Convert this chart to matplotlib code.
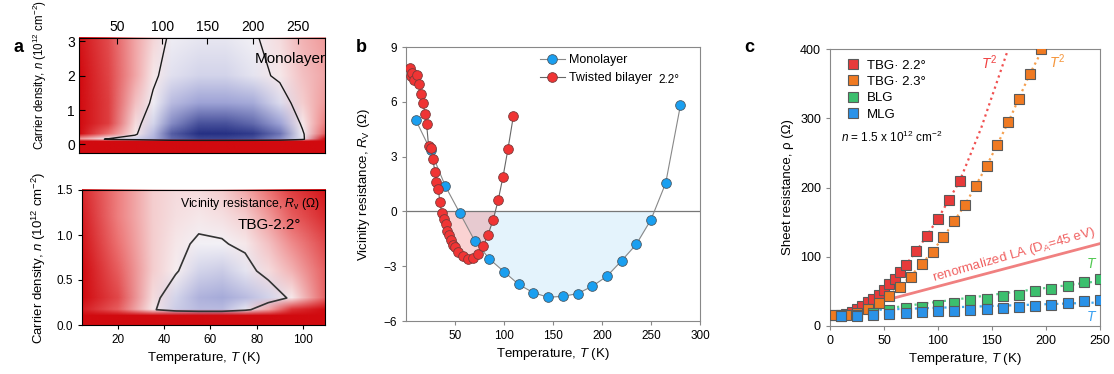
import numpy as np
import matplotlib
matplotlib.use('Agg')
import matplotlib.pyplot as plt
from matplotlib.colors import LinearSegmentedColormap
from matplotlib.image import NonUniformImage

plt.rcParams['font.family'] = ['Liberation Sans', 'DejaVu Sans']
plt.rcParams['mathtext.fontset'] = 'custom'
plt.rcParams['mathtext.rm'] = 'Liberation Sans'
plt.rcParams['mathtext.it'] = 'Liberation Sans:italic'
plt.rcParams['mathtext.bf'] = 'Liberation Sans:bold'

# ---- panel a: vicinity resistance maps (normalised), rows = n, cols = T
T_mono = [8, 40, 70, 90, 110, 140, 170, 200, 230, 255, 280]
n_mono = [-0.25, 0.08, 0.15, 0.3, 0.6, 1.2, 2.0, 3.1]
Rv_mono = [
    [1.0, 1.0, 1.0, 1.0, 1.0, 1.0, 1.0, 1.0, 1.0, 1.0, 1.0],
    [1.0, 1.0, 1.0, 1.0, 1.0, 1.0, 1.0, 1.0, 1.0, 1.0, 1.0],
    [0.35, -0.05, -0.2, -0.4, -0.75, -0.9, -0.9, -0.85, -0.6, -0.1, 1.0],
    [1.0, 0.5, 0.05, -0.35, -0.8, -1.0, -1.0, -0.95, -0.7, -0.05, 0.6],
    [1.0, 0.75, 0.1, -0.2, -0.6, -0.85, -0.85, -0.75, -0.5, 0.05, 0.45],
    [1.0, 0.75, 0.2, -0.05, -0.35, -0.5, -0.5, -0.45, -0.15, 0.15, 0.35],
    [1.0, 0.72, 0.3, 0.05, -0.12, -0.2, -0.2, -0.1, 0.05, 0.2, 0.3],
    [0.95, 0.68, 0.3, 0.12, -0.04, -0.08, -0.08, -0.03, 0.1, 0.25, 0.35],
]

T_tbg = [4.6, 20, 35, 45, 55, 65, 75, 85, 95, 110]
n_tbg = [0, 0.1, 0.17, 0.3, 0.6, 0.9, 1.2, 1.5]
Rv_tbg = [
    [1.0, 1.0, 1.0, 1.0, 1.0, 1.0, 1.0, 1.0, 1.0, 1.0],
    [1.0, 1.0, 1.0, 1.0, 1.0, 1.0, 1.0, 1.0, 1.0, 1.0],
    [0.9, 0.6, 0.05, -0.25, -0.35, -0.35, -0.1, 0.3, 0.8, 1.0],
    [1.0, 0.7, 0.1, -0.2, -0.4, -0.45, -0.35, -0.2, 0.05, 0.6],
    [1.0, 0.6, 0.15, 0.03, -0.2, -0.25, -0.1, 0.1, 0.25, 0.6],
    [0.95, 0.5, 0.15, 0.05, -0.03, -0.02, 0.05, 0.2, 0.4, 0.7],
    [0.9, 0.45, 0.15, 0.08, 0.05, 0.08, 0.15, 0.35, 0.6, 0.85],
    [0.85, 0.45, 0.15, 0.1, 0.1, 0.15, 0.3, 0.5, 0.75, 0.95],
]

# ---- panel b: Rv(T)
T_ml = [10, 25, 40, 55, 70, 85, 100, 115, 130, 145, 160, 175, 190, 205, 220, 235, 250, 265, 280]
Rv_ml = [5.0, 3.35, 1.4, -0.1, -1.6, -2.6, -3.3, -4.0, -4.45, -4.7, -4.65, -4.5, -4.1, -3.55, -2.7, -1.8, -0.45, 1.55, 5.8]
T_tb = [4, 5, 6.5, 8.5, 11.5, 13, 15.5, 17, 19.5, 21, 23, 25, 27.5, 29.5, 31, 33, 34.5, 36.5, 38.5,
        41, 42, 44, 46, 48, 50.5, 53.5, 58.5, 63, 68.5, 73.5, 79, 83.5, 89, 94, 99, 104, 109.5]
Rv_tb = [7.85, 7.4, 7.6, 7.2, 7.45, 7.0, 6.45, 5.95, 5.35, 4.8, 3.6, 3.45, 2.85, 2.15, 1.6, 1.25, 0.5, -0.1, -0.4,
         -0.7, -1.05, -1.3, -1.55, -1.85, -1.95, -2.2, -2.45, -2.6, -2.55, -2.35, -1.9, -1.3, -0.45, 0.6, 1.9, 3.4, 5.2]

# ---- panel c: sheet resistance
T_22 = [5, 10, 15, 20, 25, 30, 35, 40, 45, 50, 55, 60, 65, 70, 80, 90, 100, 110, 120]
rho_22 = [16, 16, 17, 20, 24, 28.5, 34, 38.6, 45, 52.6, 60, 68, 77.6, 88, 108, 130, 155, 182, 209]
T_23 = [5, 15, 25, 35, 45, 55, 65, 75, 85, 95, 105, 115, 125, 135, 145, 155, 165, 175, 185, 195]
rho_23 = [16, 16, 18.8, 24.6, 33.8, 43.9, 57, 70.8, 89.2, 107.4, 128, 151.7, 175.4, 202.3,
          230.8, 262, 294, 327.6, 363.7, 399.4]
T_mono_blg = [10, 25, 40, 55, 70, 85, 100, 115, 130, 145, 160, 175, 190, 205, 220, 235, 250]
rho_blg = [15, 16, 18.8, 22.7, 25.6, 28, 30.4, 33.8, 36.9, 39.6, 42.9, 45.4, 50.1, 53.5, 57.4, 63.6, 68.5]
rho_mlg = [14, 15, 16.5, 17.9, 18.8, 19.8, 21.2, 22.2, 23.4, 24.6, 26, 27.5, 28.4, 30.9, 32.8, 35.7, 37.1]

# fitted guides
T_fit22 = [40, 60, 80, 100, 120, 140, 165]
rho_fit22 = [36, 68, 108, 155, 209, 286, 400]
T_fit23 = [45, 65, 85, 105, 125, 145, 165, 185, 197]
rho_fit23 = [33, 57, 89, 128, 175, 231, 294, 364, 400]
T_lin = [35, 250]
rho_lin_blg = [22, 65]
rho_lin_mlg = [23, 34]
T_LA = [0, 250]
rho_LA = [16, 119]

W, H = 1114, 374
fig = plt.figure(figsize=(W / 100, H / 100), dpi=100)

def box(x0, y0, x1, y1):
    return [x0 / W, 1 - y1 / H, (x1 - x0) / W, (y1 - y0) / H]

cmap = LinearSegmentedColormap.from_list(
    'rwb', [(0.15, 0.19, 0.52), (0.62, 0.64, 0.84), (0.97, 0.96, 0.97), (0.93, 0.45, 0.45), (0.82, 0.04, 0.06)])

def rv_map(ax, T, n, R, lc, lw):
    im = NonUniformImage(ax, interpolation='bilinear', cmap=cmap,
                         extent=(T[0], T[-1], n[0], n[-1]))
    im.set_data(np.array(T, float), np.array(n, float), np.array(R))
    im.set_clim(-1, 1)
    ax.add_image(im)
    ax.contour(T, n, np.array(R), levels=[0], colors=lc, linewidths=lw)
    ax.set_xlim(T[0], T[-1])
    ax.set_ylim(n[0], n[-1])

# top map
ax1 = fig.add_axes(box(79, 38, 325, 153))
rv_map(ax1, T_mono, n_mono, Rv_mono, '#1a1a1a', 1.0)
ax1.set_ylim(-0.25, 3.1)
ax1.xaxis.tick_top()
ax1.set_xticks([50, 100, 150, 200, 250])
ax1.set_yticks([0, 1, 2, 3])
ax1.tick_params(direction='in', labelsize=10, length=4, pad=3)
ax1.text(0.86, 0.82, 'Monolayer', transform=ax1.transAxes, ha='center', va='center', fontsize=11)
fig.text(40 / W, 1 - 150 / H, 'Carrier density, $n$ (10$^{12}$ cm$^{-2}$)', rotation=90,
         ha='center', va='bottom', fontsize=8.3)

# bottom map
ax2 = fig.add_axes(box(82, 190, 325, 325))
rv_map(ax2, T_tbg, n_tbg, Rv_tbg, '#333333', 1.2)
ax2.set_xlim(4.6, 109.5)
ax2.set_xticks([20, 40, 60, 80, 100])
ax2.set_yticks([0, 0.5, 1.0, 1.5])
ax2.set_yticklabels(['0.0', '0.5', '1.0', '1.5'])
ax2.tick_params(labelsize=8.5, length=3)
ax2.set_xlabel('Temperature, $T$ (K)', fontsize=9.5, labelpad=3)
ax2.set_ylabel('Carrier density, $n$ (10$^{12}$ cm$^{-2}$)', fontsize=9.5, labelpad=6)
ax2.text(0.98, 0.9, 'Vicinity resistance, $R_\\mathrm{v}$ (Ω)', transform=ax2.transAxes,
         ha='right', va='center', fontsize=8.8)
ax2.text(0.9, 0.74, 'TBG-2.2°', transform=ax2.transAxes, ha='right', va='center', fontsize=11)

# panel b
gray = '#888888'
ax3 = fig.add_axes(box(406, 47, 700, 321))
ax3.fill_between(T_ml, Rv_ml, 0, where=np.array(Rv_ml) < 0.05, interpolate=True,
                 color='#e4f3fc', lw=0, zorder=1)
ax3.fill_between(T_tb, Rv_tb, 0, where=np.array(Rv_tb) < 0.05, interpolate=True,
                 color='#f06060', alpha=0.28, lw=0, zorder=1)
ax3.axhline(0, color='#777777', lw=0.9, zorder=2)
ax3.plot(T_ml, Rv_ml, '-o', color='#888888', lw=0.8, ms=7, mfc='#1a9ff0', mec='#4a5a66',
         mew=0.6, label='Monolayer', zorder=3)
ax3.plot(T_tb, Rv_tb, '-o', color='#666666', lw=0.8, ms=7, mfc='#f03434', mec='#7a3a3a',
         mew=0.6, label='Twisted bilayer', zorder=4)
ax3.set_xlim(0, 300)
ax3.set_ylim(-6, 9)
ax3.set_xticks([50, 100, 150, 200, 250, 300])
ax3.set_yticks([-6, -3, 0, 3, 6, 9])
for s in ax3.spines.values():
    s.set_color(gray)
ax3.tick_params(labelsize=8.5, length=3, color=gray)
ax3.set_xlabel('Temperature, $T$ (K)', fontsize=9.5, labelpad=3)
ax3.set_ylabel('Vicinity resistance, $R_\\mathrm{V}$ (Ω)', fontsize=9.5, labelpad=8)
ax3.legend(loc='upper left', bbox_to_anchor=(0.43, 1.0), frameon=False, fontsize=9,
           handlelength=2.0, handletextpad=0.3, labelspacing=0.45, borderaxespad=0.2)
ax3.text(268, 7.2, '2.2°', fontsize=8.5, ha='center', va='center')

# panel c
ax4 = fig.add_axes(box(830, 49, 1100, 326))
ax4.plot(T_LA, rho_LA, '-', color='#f08080', lw=2.0, zorder=1)
ax4.plot(T_fit22, rho_fit22, ':', color='#f05050', lw=1.6, zorder=1)
ax4.plot(T_fit23, rho_fit23, ':', color='#f5a050', lw=1.6, zorder=1)
ax4.plot(T_lin, rho_lin_blg, ':', color='#5cd08c', lw=1.6, zorder=1)
ax4.plot(T_lin, rho_lin_mlg, ':', color='#40a8f0', lw=1.6, zorder=1)
sq = dict(ls='none', marker='s', ms=7, mec='#5a5a5a', mew=0.8, zorder=3)
ax4.plot(T_22, rho_22, mfc='#e83a3a', label='TBG· 2.2°', **sq)
ax4.plot(T_23, rho_23, mfc='#f07a22', label='TBG· 2.3°', **sq)
ax4.plot(T_mono_blg, rho_blg, mfc='#3cbf6e', label='BLG', **sq)
ax4.plot(T_mono_blg, rho_mlg, mfc='#2a92e8', label='MLG', **sq)
ax4.set_xlim(0, 250)
ax4.set_ylim(0, 400)
ax4.set_xticks([0, 50, 100, 150, 200, 250])
ax4.set_yticks([0, 100, 200, 300, 400])
for s in ax4.spines.values():
    s.set_color(gray)
ax4.tick_params(labelsize=9, length=3, color=gray)
ax4.set_xlabel('Temperature, $T$ (K)', fontsize=9.5, labelpad=3)
ax4.set_ylabel('Sheet resistance, ρ (Ω)', fontsize=9.5, labelpad=4)
ax4.legend(loc='upper left', bbox_to_anchor=(0.03, 0.99), frameon=False, fontsize=9.5,
           handlelength=1.0, handletextpad=0.6, labelspacing=0.3, borderaxespad=0.2)
ax4.text(10.5, 273, '$n$ = 1.5 x 10$^{12}$ cm$^{-2}$', fontsize=8.5, ha='left', va='center')
ax4.text(147, 380, '$T^2$', color='#f04040', fontsize=10, ha='center', va='center')
ax4.text(210, 382, '$T^2$', color='#f5953a', fontsize=10, ha='center', va='center')
ax4.text(242, 90, '$T$', color='#50c850', fontsize=10, ha='center', va='center')
ax4.text(242, 13, '$T$', color='#3aa0f0', fontsize=10, ha='center', va='center')
ax4.text(172, 91, 'renormalized LA (D$_\\mathrm{A}$=45 eV)', color='#f06060', fontsize=9.5,
         rotation=16, rotation_mode='anchor', ha='center', va='bottom')

for lab, x in (('a', 14), ('b', 356), ('c', 744)):
    fig.text(x / W, 1 - 47 / H, lab, fontsize=13, fontweight='bold', ha='left', va='center')

fig.savefig('out.png', dpi=100)
